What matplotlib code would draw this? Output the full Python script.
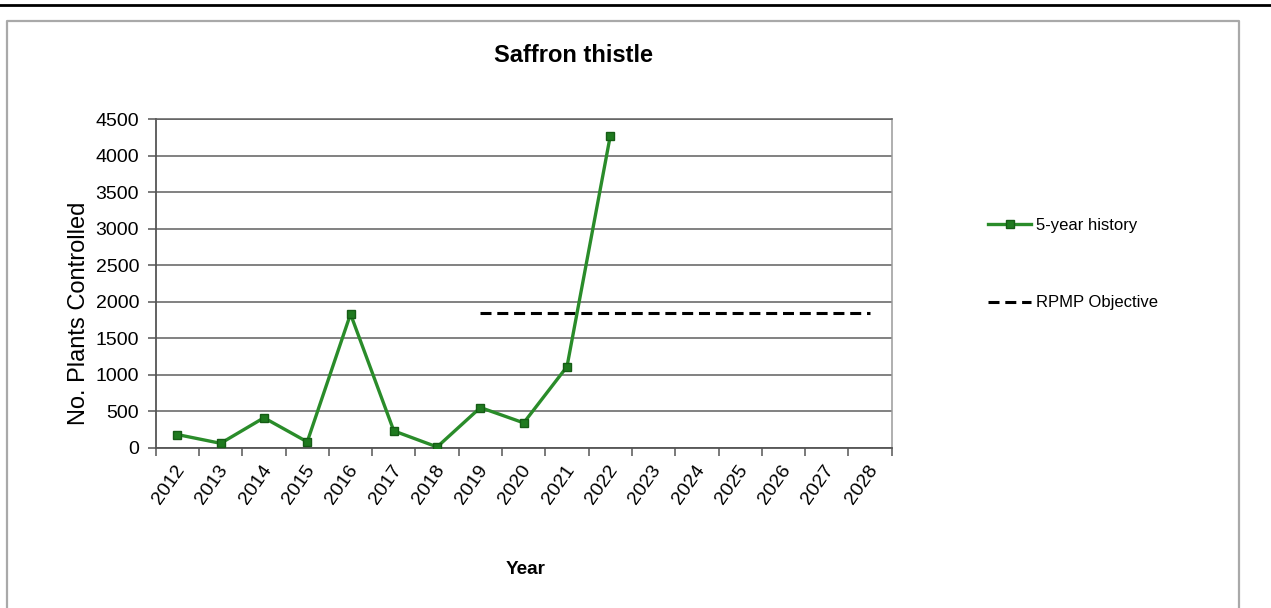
import matplotlib
matplotlib.use("Agg")
import matplotlib.pyplot as plt
import matplotlib.transforms as mtransforms
from matplotlib.lines import Line2D

plt.rcParams['font.family'] = ['Liberation Sans', 'DejaVu Sans']

# data
years = ['2012', '2013', '2014', '2015', '2016', '2017', '2018', '2019', '2020',
         '2021', '2022', '2023', '2024', '2025', '2026', '2027', '2028']
history_years = ['2012', '2013', '2014', '2015', '2016', '2017', '2018', '2019',
                 '2020', '2021', '2022']
history = [180, 60, 410, 80, 1830, 230, 10, 550, 340, 1110, 4270]
objective_years = ['2019', '2020', '2021', '2022', '2023', '2024', '2025', '2026',
                   '2027', '2028']
objective = [1850] * len(objective_years)
yticks = [0, 500, 1000, 1500, 2000, 2500, 3000, 3500, 4000, 4500]

W, H = 1271, 608
fig = plt.figure(figsize=(W / 100, H / 100), dpi=100)
ax = fig.add_axes([155.7 / W, 1 - 447.7 / H, (891.7 - 155.7) / W, (447.7 - 119) / H])

xpos = {y: i for i, y in enumerate(years)}
hx = [xpos[y] for y in history_years]
ox = [xpos[y] for y in objective_years]

ax.plot(hx, history, color='#2a8c2a', lw=2.4, marker='s', ms=6,
        mfc='#1f7a1f', mec='#155c15', label='5-year history', zorder=4)
ax.plot(ox, objective, color='black', lw=2.2, dashes=(3.6, 1.9),
        label='RPMP Objective', zorder=3)

ax.set_xlim(-0.5, len(years) - 0.5)
ax.set_ylim(0, 4500)
ax.set_yticks(yticks)
ax.set_yticklabels([str(v) for v in yticks], fontsize=14)
ax.yaxis.grid(True, color='#5f5f5f', lw=1.1)
ax.set_axisbelow(True)

# ticks at category boundaries, labels at centres
ax.set_xticks([i - 0.5 for i in range(len(years) + 1)])
ax.set_xticklabels([])
ax.set_xticks(range(len(years)), minor=True)
ax.set_xticklabels(years, minor=True, fontsize=14, rotation=55,
                   ha='right', va='center', rotation_mode='anchor')
ax.tick_params(axis='x', which='minor', length=0, pad=13.5)
ax.tick_params(axis='x', which='major', length=5.5, width=1.1, color='#555555')
ax.tick_params(axis='y', length=6, width=1.1, color='#555555', pad=6)
offset = mtransforms.ScaledTranslation(4 / 100, 0, fig.dpi_scale_trans)
for lab in ax.xaxis.get_minorticklabels():
    lab.set_transform(lab.get_transform() + offset)

for s in ['left', 'bottom']:
    ax.spines[s].set_color('#555555')
    ax.spines[s].set_linewidth(1.3)
ax.spines['top'].set_color('#5f5f5f')
ax.spines['top'].set_linewidth(1.1)
ax.spines['right'].set_color('#9a9a9a')
ax.spines['right'].set_linewidth(1.1)

fig.text(573 / W, 1 - 55 / H, 'Saffron thistle', fontsize=17, fontweight='bold',
         ha='center', va='center')
fig.text(525.5 / W, 1 - 569 / H, 'Year', fontsize=13.6, fontweight='bold',
         ha='center', va='center')
fig.text(79 / W, 1 - 313.5 / H, 'No. Plants Controlled', fontsize=17,
         rotation=90, ha='center', va='center')

fig.legend(loc='upper left', bbox_to_anchor=(988 / W, 1 - 218 / H),
           frameon=False, fontsize=12, borderpad=0, borderaxespad=0,
           handlelength=2.6, handletextpad=0.3, labelspacing=3.75)

# page rule and chart frame
fig.add_artist(Line2D([0, 1], [1 - 5 / H, 1 - 5 / H], transform=fig.transFigure,
                      color='black', lw=2))
fig.add_artist(Line2D([7 / W, 7 / W, 1239 / W, 1239 / W], [0, 1 - 21 / H, 1 - 21 / H, 0],
                      transform=fig.transFigure, color='#a9a9a9', lw=1.6))

fig.savefig('out.png', dpi=100)
